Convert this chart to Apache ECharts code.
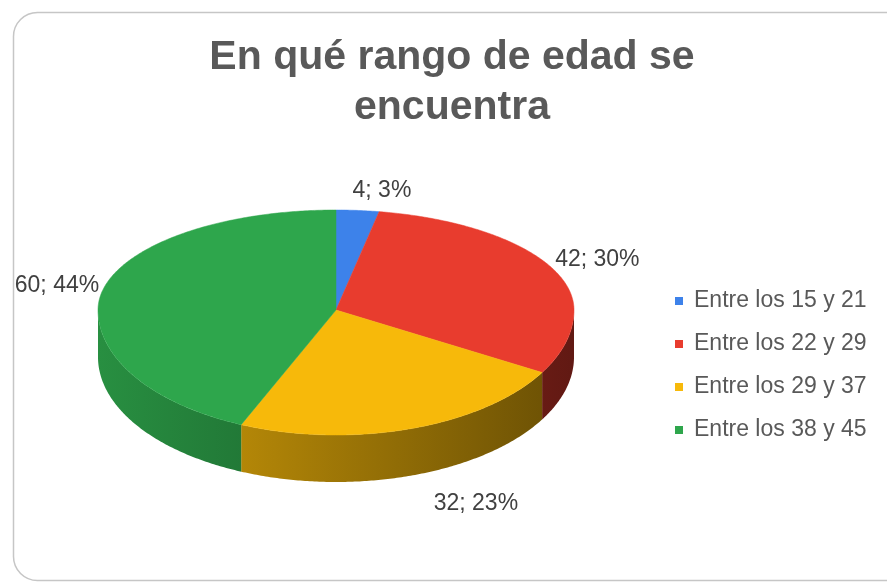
<!DOCTYPE html>
<html><head><meta charset="utf-8">
<script src="https://cdn.jsdelivr.net/npm/echarts@6/dist/echarts.min.js"></script>
<style>html,body{margin:0;padding:0;background:#fff}#c{width:887px;height:582px}</style>
</head><body><div id="c"></div>
<script>
const categories = ['Entre los 15 y 21', 'Entre los 22 y 29', 'Entre los 29 y 37', 'Entre los 38 y 45'];
const counts = [4, 42, 32, 60];
const percents = [3, 30, 23, 44];
const colors = ['#3d82ea', '#e83c2e', '#f7b90a', '#2ea64c'];
const titleText = 'En qué rango de edad se\nencuentra';

const FONT = '"Liberation Sans", Arial, sans-serif';
const chart = echarts.init(document.getElementById('c'), null, { renderer: 'canvas' });
const total = counts.reduce((a, b) => a + b, 0);
const starts = [];
let acc = 0;
counts.forEach(v => { starts.push(acc); acc += v; });

const P = { cx: 336, cy: 310, rx: 238, ryT: 100, ryB: 125, depth: 47 };
function pt(phi, down) {
  const s = Math.sin(phi), c = Math.cos(phi);
  const ry = c >= 0 ? P.ryT : P.ryB;
  return [P.cx + P.rx * s, P.cy - ry * c + (down || 0)];
}
function shade(hex, f) {
  const n = parseInt(hex.slice(1), 16);
  const r = Math.round(((n >> 16) & 255) * f), g = Math.round(((n >> 8) & 255) * f), b = Math.round((n & 255) * f);
  return 'rgb(' + r + ',' + g + ',' + b + ')';
}
function arcPts(a0, a1, down) {
  const n = Math.max(6, Math.ceil((a1 - a0) / 0.01));
  const out = [];
  for (let k = 0; k <= n; k++) out.push(pt(a0 + (a1 - a0) * k / n, down));
  return out;
}

function makeRender(i) {
  return function (params, api) {
    const v = api.value(0);
    const a0 = starts[i] / total * 2 * Math.PI;
    const a1 = (starts[i] + v) / total * 2 * Math.PI;
    const col = colors[i];
    const children = [];
    const lo = Math.max(a0, Math.PI / 2), hi = Math.min(a1, 3 * Math.PI / 2);
    if (lo < hi) {
      const top = arcPts(lo, hi, 0);
      const bot = arcPts(lo, hi, P.depth).reverse();
      children.push({
        type: 'polygon',
        shape: { points: top.concat(bot) },
        style: {
          fill: {
            type: 'linear', x: P.cx - P.rx, y: 0, x2: P.cx + P.rx, y2: 0, global: true,
            colorStops: [{ offset: 0, color: shade(col, 0.86) }, { offset: 1, color: shade(col, 0.42) }]
          }
        }
      });
    }
    const topPts = [[P.cx, P.cy]].concat(arcPts(a0, a1, 0));
    children.push({ type: 'polygon', shape: { points: topPts }, style: { fill: col, stroke: col, lineWidth: 0.5 } });
    // label
    const mid = (a0 + a1) / 2;
    const s = Math.sin(mid), c = Math.cos(mid);
    const front = c < -0.5;
    const lx = front ? P.cx + (P.rx + 10) * s + 20 : P.cx + (P.rx + 10) * s + (s >= 0 ? -6 : 6);
    const ly = c >= 0 ? P.cy - (P.ryT + 20) * c : P.cy - (P.ryB + 29) * c + P.depth;
    children.push({
      type: 'text', x: lx, y: ly,
      style: {
        text: v + '; ' + percents[i] + '%', fill: '#404040', fontSize: 23, fontFamily: FONT,
        align: s >= 0 ? 'left' : 'right', verticalAlign: 'middle'
      }
    });
    return { type: 'group', children };
  };
}

const option = {
  backgroundColor: '#ffffff',
  animation: false,
  title: {
    text: titleText, left: 452, textAlign: 'center', top: 33, padding: 0,
    textStyle: { fontSize: 41, fontWeight: 'bold', color: '#595959', fontFamily: FONT, lineHeight: 50 }
  },
  legend: {
    orient: 'vertical', left: 670, top: 284, icon: 'rect', itemWidth: 8, itemHeight: 8, itemGap: 19,
    data: categories,
    textStyle: { fontSize: 23, color: '#595959', fontFamily: FONT, lineHeight: 24, padding: [0, 0, 0, 6] }
  },
  graphic: [{
    type: 'rect', left: 11, top: 10, z: -10,
    shape: { width: 900, height: 568, r: 24 },
    style: { fill: 'none', stroke: '#c6c6c6', lineWidth: 1.5 }
  }],
  series: categories.map((name, i) => ({
    type: 'custom', name, coordinateSystem: 'none', silent: true,
    itemStyle: { color: colors[i] },
    data: [[counts[i]]],
    renderItem: makeRender(i)
  }))
};
chart.setOption(option);
</script></body></html>
